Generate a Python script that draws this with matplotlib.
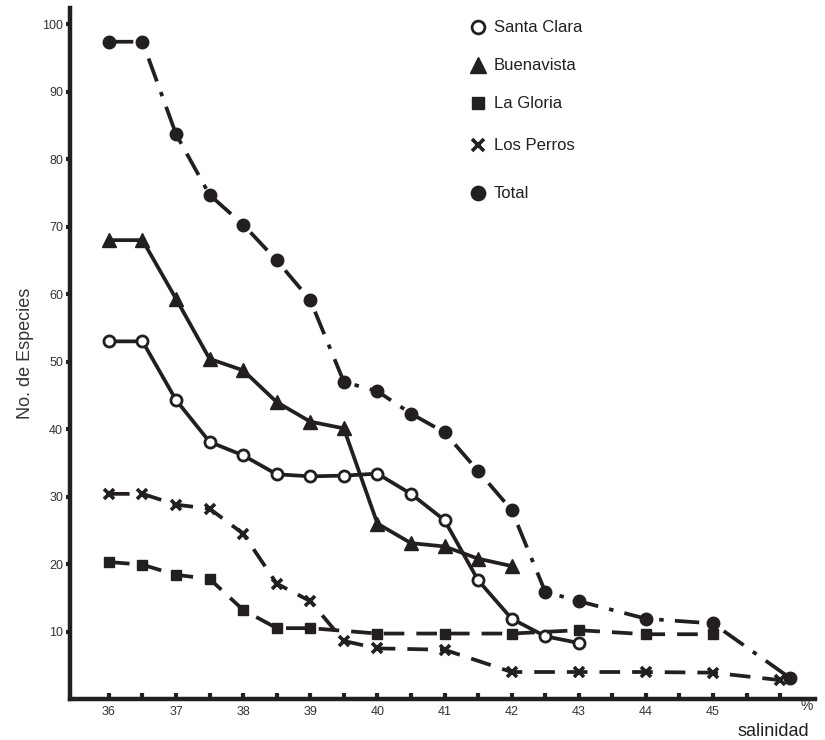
import matplotlib
matplotlib.use("Agg")
import matplotlib.pyplot as plt

plt.rcParams["font.family"] = ["Liberation Sans", "DejaVu Sans"]

INK = "#231f20"

# salinidad (%) for each station series
x_santa_clara = [36, 36.5, 37, 37.5, 38, 38.5, 39, 39.5, 40, 40.5, 41, 41.5, 42, 42.5, 43]
santa_clara = [53.0, 53.0, 44.3, 38.1, 36.1, 33.3, 33.0, 33.1, 33.4, 30.4, 26.5, 17.6, 11.9, 9.3, 8.3]

x_buenavista = [36, 36.5, 37, 37.5, 38, 38.5, 39, 39.5, 40, 40.5, 41, 41.5, 42]
buenavista = [68.0, 68.0, 59.3, 50.4, 48.7, 44.0, 41.1, 40.1, 26.0, 23.1, 22.6, 20.8, 19.7]

x_la_gloria = [36, 36.5, 37, 37.5, 38, 38.5, 39, 40, 41, 42, 43, 44, 45]
la_gloria = [20.3, 19.9, 18.4, 17.8, 13.2, 10.5, 10.5, 9.7, 9.7, 9.7, 10.2, 9.6, 9.6]

x_los_perros = [36, 36.5, 37, 37.5, 38, 38.5, 39, 39.5, 40, 41, 42, 43, 44, 45, 46]
los_perros = [30.4, 30.4, 28.8, 28.2, 24.5, 17.1, 14.5, 8.6, 7.5, 7.3, 4.0, 4.0, 4.0, 3.9, 2.8]

x_total = [36, 36.5, 37, 37.5, 38, 38.5, 39, 39.5, 40, 40.5, 41, 41.5, 42, 42.5, 43, 44, 45, 46.15]
total = [97.4, 97.4, 83.7, 74.7, 70.3, 65.0, 59.1, 47.0, 45.6, 42.3, 39.5, 33.8, 28.0, 15.9, 14.5, 11.9, 11.2, 3.1]

y_ticks = [10, 20, 30, 40, 50, 60, 70, 80, 90, 100]
x_labels = [36, 37, 38, 39, 40, 41, 42, 43, 44, 45]
legend_names = ["Santa Clara", "Buenavista", "La Gloria", "Los Perros", "Total"]

fig = plt.figure(figsize=(8.25, 7.4), dpi=100)
ax = fig.add_axes([70 / 825, 41 / 740, 745 / 825, 691 / 740])

lw = 2.7
styles = [
    dict(ls="-", marker="o", ms=8, mfc="white", mec=INK, mew=2),
    dict(ls="-", marker="^", ms=9.5, mfc=INK, mec=INK),
    dict(ls=(0, (5.5, 3.2)), marker="s", ms=7.5, mfc=INK, mec=INK),
    dict(ls=(0, (5.5, 3.2)), marker="x", ms=7, mfc=INK, mec=INK, mew=2.6),
    dict(ls=(0, (6.5, 3, 1.2, 3)), marker="o", ms=9, mfc=INK, mec=INK),
]
series = [
    (x_santa_clara, santa_clara),
    (x_buenavista, buenavista),
    (x_la_gloria, la_gloria),
    (x_los_perros, los_perros),
    (x_total, total),
]
for (xs, ys), st in zip(series, styles):
    ax.plot(xs, ys, color=INK, lw=lw, **st)

ax.set_xlim(35.42, 46.52)
ax.set_ylim(0, 102.4)

for side in ["top", "right"]:
    ax.spines[side].set_visible(False)
for side in ["left", "bottom"]:
    ax.spines[side].set_linewidth(3.2)
    ax.spines[side].set_color(INK)

ax.set_yticks(y_ticks)
ax.set_yticklabels([str(v) for v in y_ticks])
ax.tick_params(axis="y", direction="out", length=3, width=3, color=INK,
               labelsize=9, pad=2, labelcolor="#333333")

half_ticks = [36 + 0.5 * i for i in range(21)]
ax.set_xticks(half_ticks)
ax.set_xticklabels([str(int(t)) if t in x_labels else "" for t in half_ticks])
ax.tick_params(axis="x", direction="in", length=4, width=3, color=INK,
               labelsize=9, pad=5, labelcolor="#333333")

ax.set_ylabel("No. de Especies", fontsize=13, color="#333333", labelpad=6)
fig.text(807 / 825, 1 - 706 / 740, "%", fontsize=10, ha="center", va="center", color="#333333")
fig.text(773 / 825, 1 - 732 / 740, "salinidad", fontsize=13, ha="center", va="center", color=INK)

# legend drawn by hand (uneven spacing in the original)
legend_y = [27, 65, 103, 145, 193]
legend_scale = 1.15
for name, yp, st in zip(legend_names, legend_y, styles):
    mst = {k: v for k, v in st.items() if k != "ls"}
    mst["ms"] = st["ms"] * legend_scale
    fig.lines.append(plt.Line2D([478 / 825], [1 - yp / 740], transform=fig.transFigure,
                                color=INK, ls="none", **mst))
    fig.text(494 / 825, 1 - yp / 740, name, fontsize=12, va="center", ha="left", color=INK)

fig.savefig("out.png", dpi=100)
